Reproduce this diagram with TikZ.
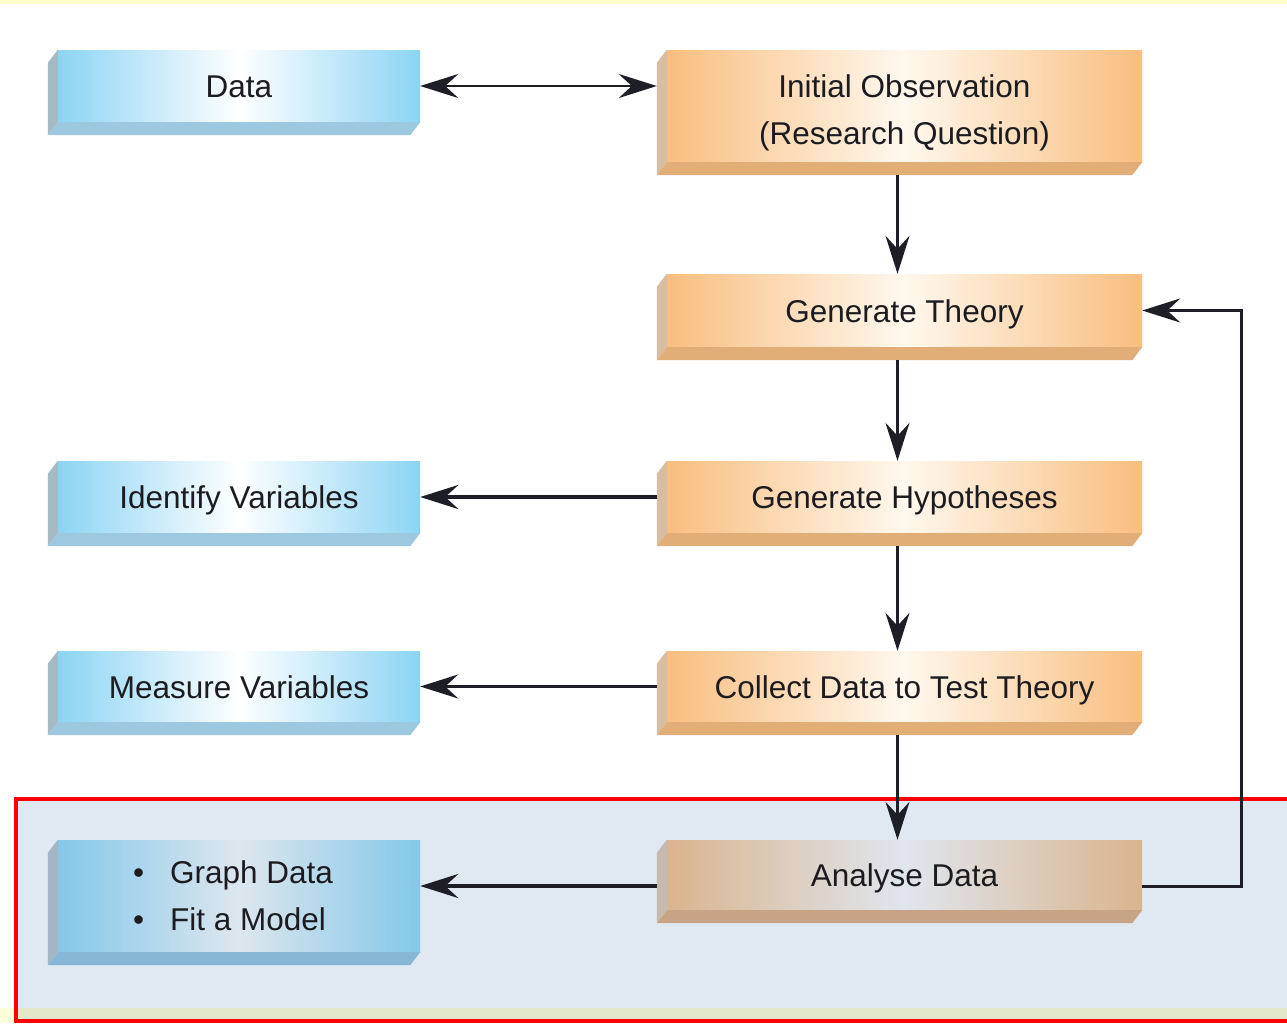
\documentclass[tikz,border=0pt]{standalone}
\usepackage{fontspec}
\setmainfont{Liberation Sans}
\usetikzlibrary{arrows.meta,calc}
\definecolor{topyellow}{HTML}{FFFFCC}
\definecolor{botyellow}{HTML}{FFFFDA}
\definecolor{panel}{HTML}{E0E8F1}
\definecolor{panelstrip}{HTML}{E2E8C9}
\definecolor{blueE}{HTML}{8CD4F4}
\definecolor{blueSide}{HTML}{A6BAC6}
\definecolor{blueBot}{HTML}{9CC8E0}
\definecolor{orE}{HTML}{F9BE7F}
\definecolor{orMid}{HTML}{FFF8EE}
\definecolor{orSide}{HTML}{D8BDA2}
\definecolor{orBot}{HTML}{E2AE78}
\definecolor{anE}{HTML}{DAB48E}
\definecolor{anMid}{HTML}{DFE6EE}
\definecolor{anSide}{HTML}{C6BAAE}
\definecolor{anBot}{HTML}{C8A486}
\definecolor{grE}{HTML}{84C8EA}
\definecolor{grMid}{HTML}{DDE6EE}
\definecolor{grSide}{HTML}{A2B6C6}
\definecolor{grBot}{HTML}{88B6D6}
\definecolor{linec}{HTML}{1E1F26}
\definecolor{textc}{HTML}{1C1C20}
\newcommand\bevelbox[3]{%
  \fill[#2] (#1.north west) -- ++(-10,13) -- ($(#1.south west)+(-10,13)$) -- (#1.south west) -- cycle;
  \fill[#3] (#1.south west) -- ($(#1.south west)+(-10,13)$) -- ($(#1.south east)+(-10,13)$) -- (#1.south east) -- cycle;}
\begin{document}
\begin{tikzpicture}[x=1pt,y=-1pt,
  box/.style={inner sep=0pt, minimum height=72pt, text=textc, align=center,
    text height=23pt, text depth=0pt,
    font=\fontsize{31.5}{47}\selectfont},
  multi/.style={text height=, text depth=},
  leftbox/.style={box, minimum width=362pt, left color=blueE, right color=blueE, middle color=white},
  rightbox/.style={box, minimum width=475pt, left color=orE, right color=orE, middle color=orMid},
  anbox/.style={box, minimum width=475pt, left color=anE, right color=anE, middle color=anMid},
  grbox/.style={box, minimum width=362pt, left color=grE, right color=grE, middle color=grMid},
  tip/.tip={Stealth[length=38pt,width=24pt,inset=13pt]},
  arr/.style={draw=linec, line width=2.5pt, -tip},
  dbl/.style={draw=linec, line width=2.5pt, tip-tip}]
\useasboundingbox (0,0) rectangle (1287,1023);
\fill[white] (0,0) rectangle (1287,1023);
\fill[topyellow] (0,0) rectangle (1287,4);
\fill[botyellow] (0,1008) rectangle (1287,1023);
\fill[panel] (16,799) rectangle (1300,1021);
\fill[panelstrip] (17,1008) rectangle (1300,1020);
\draw[red, line width=3.5pt] (16,799) rectangle (1300,1021);

% boxes
\node[leftbox] (data) at (239,86) {Data};
\node[rightbox, multi, minimum height=112pt] (init) at (904.5,106)
  {\rule{0pt}{37pt}Initial Observation\\(Research Question)};
\node[rightbox, minimum height=73pt] (theory) at (904.5,310.5) {Generate Theory};
\node[rightbox] (hyp) at (904.5,497) {Generate Hypotheses};
\node[leftbox] (ident) at (239,497) {Identify Variables};
\node[rightbox, minimum height=71pt] (collect) at (904.5,686.5) {Collect Data to Test Theory};
\node[leftbox, minimum height=71pt] (measure) at (239,686.5) {Measure Variables};
\node[anbox, minimum height=70pt] (analyse) at (904.5,875) {Analyse Data};
\node[grbox, multi, minimum height=112pt, align=left] (graph) at (239,896)
  {\textbullet\hspace{26pt}Graph Data\kern12pt\\\textbullet\hspace{26pt}Fit a Model};

\bevelbox{data}{blueSide}{blueBot}
\bevelbox{ident}{blueSide}{blueBot}
\bevelbox{measure}{blueSide}{blueBot}
\bevelbox{init}{orSide}{orBot}
\bevelbox{theory}{orSide}{orBot}
\bevelbox{hyp}{orSide}{orBot}
\bevelbox{collect}{orSide}{orBot}
\bevelbox{analyse}{anSide}{anBot}
\bevelbox{graph}{grSide}{grBot}

% connectors
\draw[dbl] (data.east) -- ([xshift=-10pt]data.east -| init.west);
\draw[arr] ([xshift=-7pt,yshift=-13pt]init.south) -- ([xshift=-7pt]theory.north);
\draw[arr] ([xshift=-7pt,yshift=-13pt]theory.south) -- ([xshift=-7pt]hyp.north);
\draw[arr] ([xshift=-7pt,yshift=-13pt]hyp.south) -- ([xshift=-7pt]collect.north);
\draw[arr] ([xshift=-7pt,yshift=-13pt]collect.south) -- ([xshift=-7pt]analyse.north);
\draw[arr, line width=4pt] ([xshift=-10pt]hyp.west) -- (ident.east);
\draw[arr, line width=2.2pt] ([xshift=-10pt]collect.west) -- (measure.east);
\draw[arr, line width=4pt] ([xshift=-10pt,yshift=-11pt]analyse.west) -- ([yshift=-11pt]analyse.west -| graph.east);
\draw[arr, line width=3pt] ([yshift=-11pt]analyse.east) -- ++(99,0) |- (theory.east);
\end{tikzpicture}
\end{document}
